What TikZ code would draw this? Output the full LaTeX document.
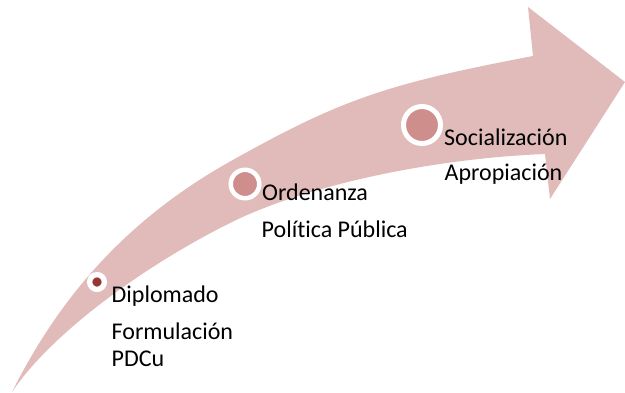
\documentclass[tikz,border=0pt]{standalone}
\usepackage{fontspec}
\setmainfont{Carlito}[Ligatures=NoCommon]
\definecolor{band}{RGB}{224,187,186}
\definecolor{ringfill}{RGB}{205,142,140}
\definecolor{dotfill}{RGB}{149,55,53}
\begin{document}
\begin{tikzpicture}[x=1pt,y=-1pt,
  lbl/.style={anchor=base west, inner sep=0pt, font=\fontsize{24}{28}\selectfont},
  ring/.style={circle, draw=white, inner sep=0pt}]
\useasboundingbox (0,0) rectangle (625,392);
\fill[band] (12,392) .. controls (63.2,289.7) and (133.25,215.7) .. (231,161)
  .. controls (340.4,99.7) and (385.7,84) .. (533,56)
  -- (528,7) -- (625,82) -- (550,199) -- (545,154)
  .. controls (429.6,158.6) and (303.6,186.2) .. (230,223)
  .. controls (135.2,270.4) and (48,338) .. (12,392) -- cycle;
\node[ring, fill=dotfill, line width=5.3pt, minimum size=14.7pt] (c1) at (97,282) {};
\node[ring, fill=ringfill, line width=4.5pt, minimum size=28.5pt] (c2) at (245,184) {};
\node[ring, fill=ringfill, line width=5pt, minimum size=37pt] (c3) at (422,125) {};
\node[lbl] (t1) at (111.5,302) {Diplomado};
\node[lbl] (t2) at (111.5,339) {Formulación};
\node[lbl] (t3) at (111.5,366) {PDCu};
\node[lbl] (t4) at (262,200) {Ordenanza};
\node[lbl] (t5) at (261.5,237) {Política Pública};
\node[lbl] (t6) at (444,145) {Socialización};
\node[lbl] (t7) at (444.5,180) {Apropiación};
\end{tikzpicture}
\end{document}
